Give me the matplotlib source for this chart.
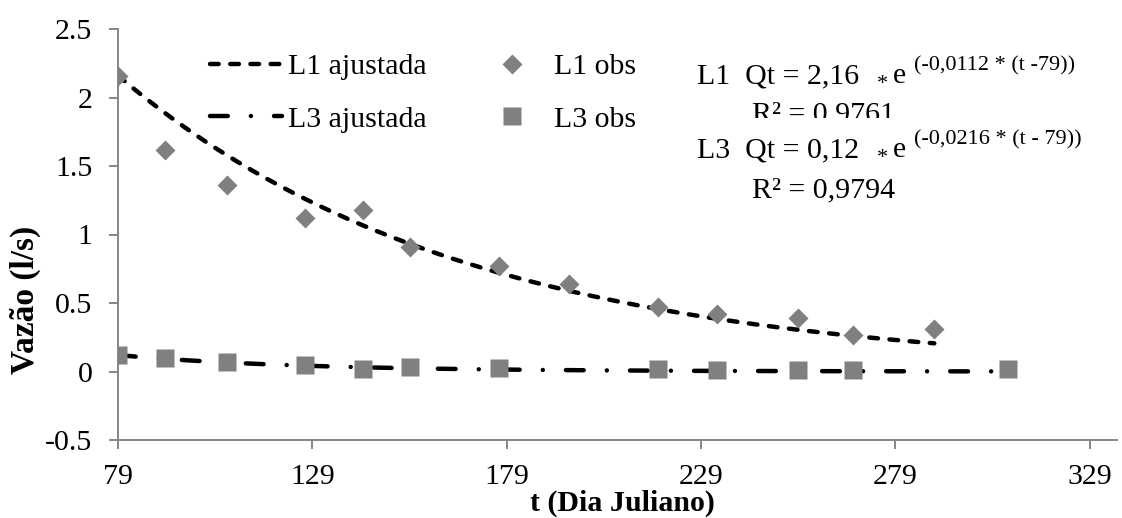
import numpy as np
import matplotlib
matplotlib.use("Agg")
import matplotlib.pyplot as plt
from matplotlib.transforms import Bbox

plt.rcParams['font.family'] = ['Liberation Serif', 'DejaVu Serif']

# observed discharge (l/s) per julian day
t_l1 = [79, 91, 107, 127, 142, 154, 177, 195, 218, 233, 254, 268, 289]
q_l1 = [2.16, 1.62, 1.36, 1.12, 1.18, 0.91, 0.77, 0.64, 0.47, 0.42, 0.39, 0.27, 0.31]
t_l3 = [79, 91, 107, 127, 142, 154, 177, 218, 233, 254, 268, 308]
q_l3 = [0.12, 0.10, 0.07, 0.045, 0.02, 0.035, 0.025, 0.02, 0.008, 0.008, 0.008, 0.015]

# fitted exponential recession
a_l1, k_l1 = 2.16, -0.0112
a_l3, k_l3 = 0.12, -0.0216
t0 = 79

xticks = [79, 129, 179, 229, 279, 329]
yticks = [-0.5, 0, 0.5, 1, 1.5, 2, 2.5]
ylabels = ['-0.5', '0', '0.5', '1', '1.5', '2', '2.5']

W, H = 1122, 518
fig = plt.figure(figsize=(W / 100, H / 100), dpi=100)
ax = fig.add_axes([118 / W, 1 - 440 / H, 999 / W, 411 / H])

gray = '#808080'
axcol = '#868686'
fs = 21.5

tt1 = np.linspace(t_l1[0], t_l1[-1], 300)
tt3 = np.linspace(t_l3[0], t_l3[-1], 300)
l1fit, = ax.plot(tt1, a_l1 * np.exp(k_l1 * (tt1 - t0)), color='black', lw=3.2,
                 linestyle=(0, (1.95, 2.6)), dash_capstyle='round',
                 label='L1 ajustada', zorder=2)
l3fit, = ax.plot(tt3, a_l3 * np.exp(k_l3 * (tt3 - t0)), color='black', lw=3.2,
                 linestyle=(0, (4.0, 5.2, 0.01, 5.2)), dash_capstyle='round',
                 label='L3 ajustada', zorder=2)
l1obs, = ax.plot(t_l1, q_l1, 'D', color=gray, ms=10, mec='none', label='L1 obs', zorder=3)
l3obs, = ax.plot(t_l3, q_l3, 's', color=gray, ms=12.5, mec='none', label='L3 obs', zorder=3)

ax.set_xlim(79, 336)
ax.set_ylim(-0.5, 2.5)
ax.set_xticks(xticks)
ax.set_xticklabels([str(v) for v in xticks])
ax.set_yticks(yticks)
ax.set_yticklabels(ylabels)

for s in ['top', 'right']:
    ax.spines[s].set_visible(False)
for s in ['left', 'bottom']:
    ax.spines[s].set_color(axcol)
    ax.spines[s].set_linewidth(1.4)
ax.tick_params(axis='both', colors=axcol, width=1.4, length=6.5, labelsize=fs,
               labelcolor='black')
ax.tick_params(axis='x', pad=11)
ax.tick_params(axis='y', pad=12)

ax.set_ylabel('Vazão (l/s)', fontsize=24, fontweight='bold')
ax.yaxis.set_label_coords(-0.077, 0.34)
ax.set_xlabel('t (Dia Juliano)', fontsize=fs, fontweight='bold', va='baseline')
ax.xaxis.set_label_coords(0.505, -71 / 411)

ax.legend([l1fit, l3fit, l1obs, l3obs],
          ['L1 ajustada', 'L3 ajustada', 'L1 obs', 'L3 obs'],
          ncol=2, frameon=False, fontsize=fs, loc='center left',
          bbox_to_anchor=(210 / W, 1 - 93 / H), bbox_transform=fig.transFigure,
          borderpad=0, borderaxespad=0, handlelength=2.4, handletextpad=0.2,
          columnspacing=1.67, labelspacing=0.86, numpoints=1)


def px(x, y):
    return x / W, 1 - y / H


def equation(y0, name, coef, expo):
    fig.text(*px(697, y0), name + '  Qt = ' + coef, fontsize=fs, va='baseline')
    fig.text(*px(877, y0 + 6), '*', fontsize=16, va='baseline')
    fig.text(*px(893, y0), 'e', fontsize=fs, va='baseline')
    fig.text(*px(914, y0 - 13), expo, fontsize=16, va='baseline')


equation(83, 'L1', '2,16', '(-0,0112 * (t -79))')
r1 = fig.text(*px(752, 121), 'R² = 0,9761', fontsize=fs, va='baseline')
r1.set_clip_box(Bbox([[0, H - 118], [W, H]]))
r1.set_clip_on(True)
equation(157, 'L3', '0,12', '(-0,0216 * (t - 79))')
fig.text(*px(752, 197), 'R² = 0,9794', fontsize=fs, va='baseline')

fig.savefig('out.png', dpi=100)
